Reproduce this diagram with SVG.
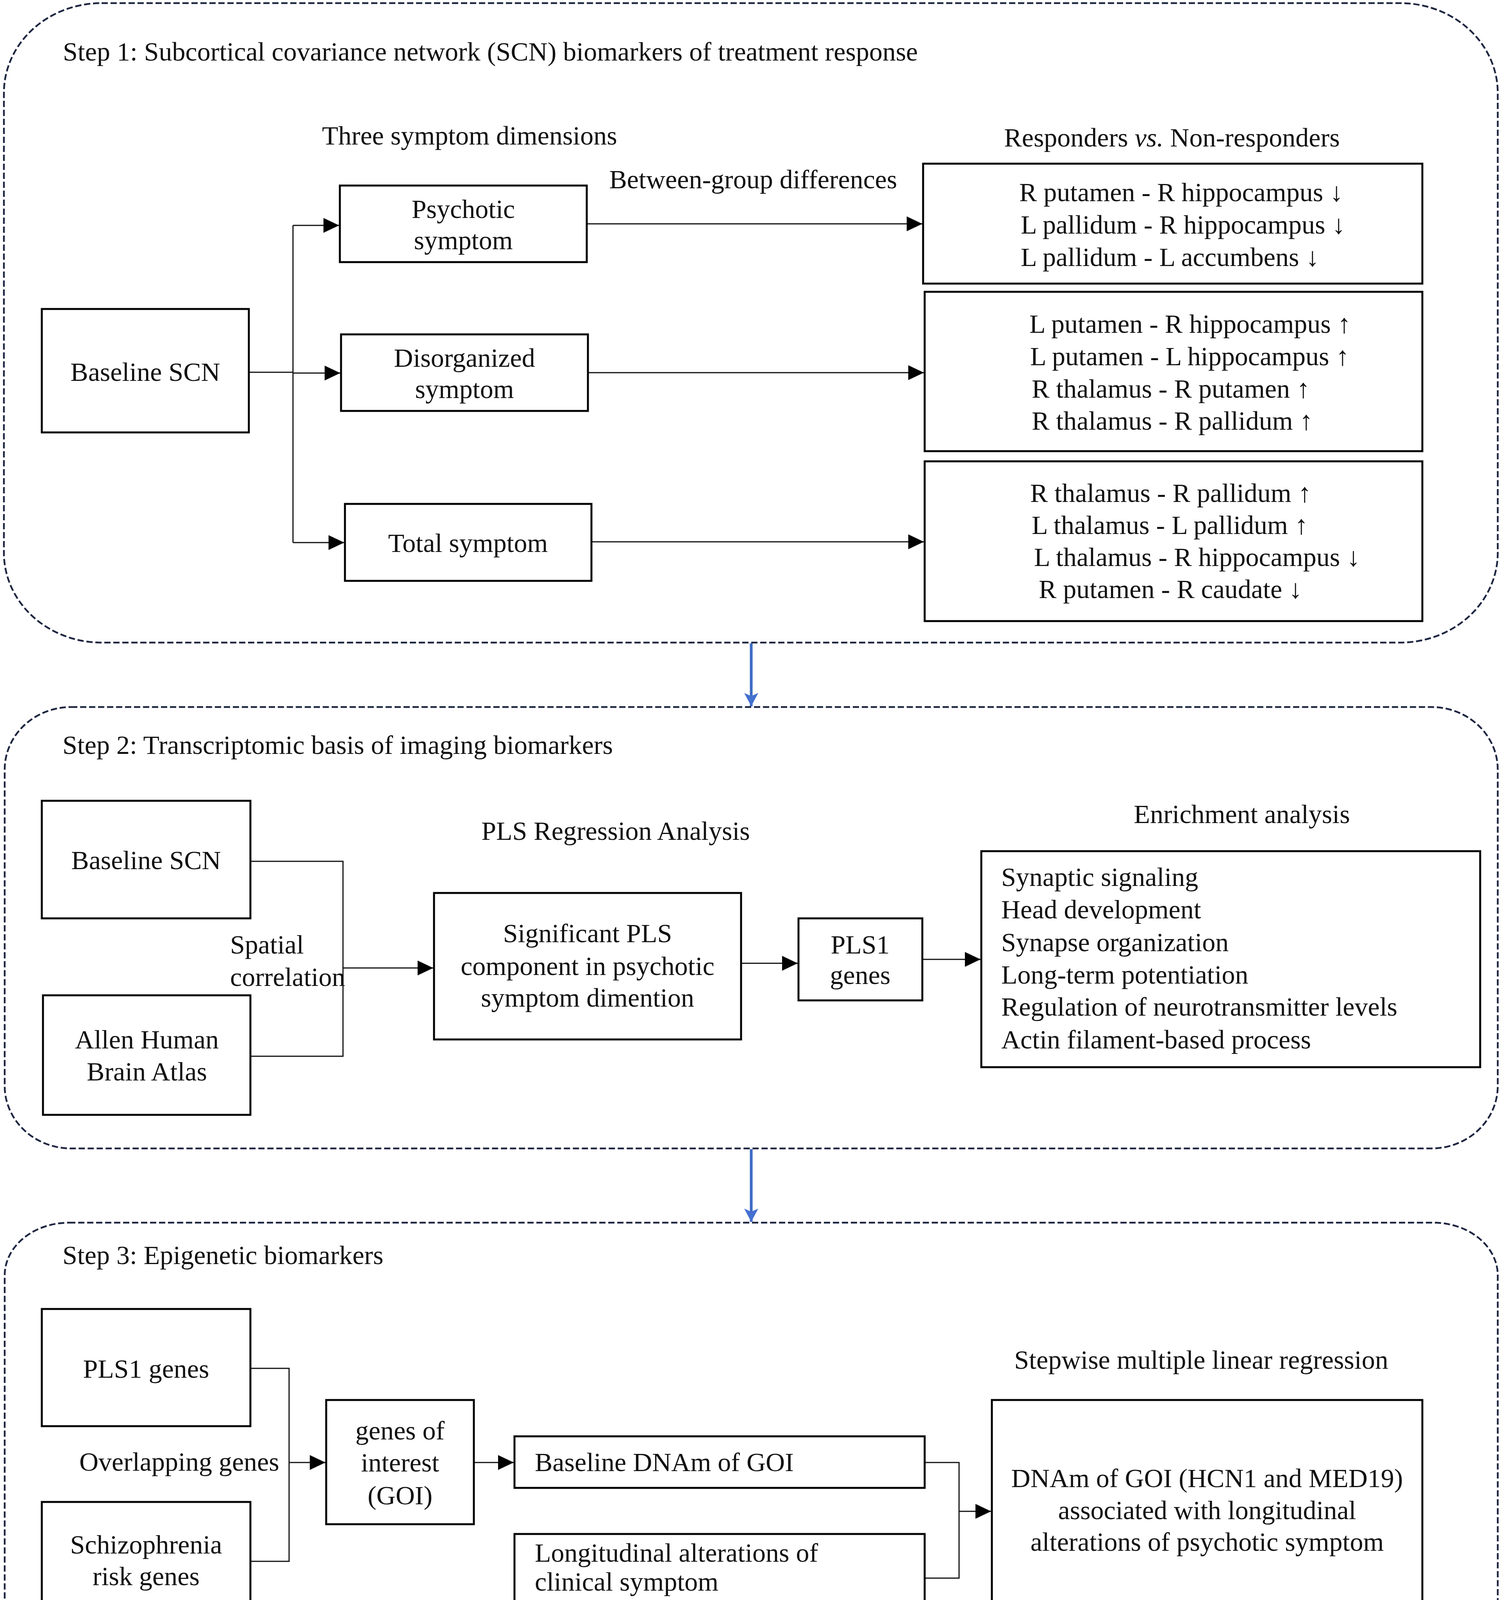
<svg xmlns="http://www.w3.org/2000/svg" width="3850" height="4271" viewBox="0 0 3850 4271">
<defs>
<style>
text{font-family:"Liberation Serif","Times New Roman",serif;font-size:68px;fill:#111}
.c{text-anchor:middle}
.panel{fill:none;stroke:#1c2540;stroke-width:4.5;stroke-dasharray:16 7}
.box{fill:#fff;stroke:#000;stroke-width:5}
.ln{fill:none;stroke:#111;stroke-width:3}
.blue{fill:none;stroke:#3d6cc4;stroke-width:7}
</style>
<marker id="ah" markerUnits="userSpaceOnUse" markerWidth="40" markerHeight="38" refX="40" refY="19" orient="auto">
<path d="M0,0 L40,19 L0,38 z" fill="#000"/>
</marker>
<marker id="bh" markerUnits="userSpaceOnUse" markerWidth="36" markerHeight="36" refX="34" refY="18" orient="auto">
<path d="M0,0 L34,18 L0,36 L8,18 z" fill="#4470d0"/>
</marker>
</defs>
<rect width="3850" height="4271" fill="#fff"/>

<g id="panel1">
<rect class="panel" x="10" y="8" width="3824" height="1637" rx="250" ry="230"/>
<text x="161" y="155">Step 1: Subcortical covariance network (SCN) biomarkers of treatment response</text>
<text class="c" x="1202" y="370">Three symptom dimensions</text>
<text class="c" x="1928" y="482">Between-group differences</text>
<text class="c" x="3000" y="375">Responders <tspan font-style="italic">vs.</tspan> Non-responders</text>
</g>
<g id="panel2">
<rect class="panel" x="12" y="1810" width="3822" height="1130" rx="170" ry="160"/>
<text x="160" y="1930">Step 2: Transcriptomic basis of imaging biomarkers</text>
<text x="589" y="2441">Spatial</text>
<text x="589" y="2524">correlation</text>
<text class="c" x="1576" y="2150">PLS Regression Analysis</text>
<text class="c" x="3179" y="2107">Enrichment analysis</text>
</g>
<g id="panel3">
<rect class="panel" x="12" y="3130" width="3822" height="1127" rx="165" ry="135"/>
<text x="160" y="3236">Step 3: Epigenetic biomarkers</text>
<text x="203" y="3765">Overlapping  genes</text>
<text class="c" x="3075" y="3504">Stepwise multiple linear regression</text>
</g>

<g id="connectors">
<path class="blue" d="M1923,1647 V1808" marker-end="url(#bh)"/>
<path class="blue" d="M1923,2942 V3128" marker-end="url(#bh)"/>
<path class="ln" d="M637,953 H750" stroke-width="4.5"/>
<path class="ln" d="M750,577 V1389"/>
<path class="ln" d="M750,577 H868" marker-end="url(#ah)"/>
<path class="ln" d="M750,955 H871" marker-end="url(#ah)"/>
<path class="ln" d="M750,1389 H881" marker-end="url(#ah)"/>
<path class="ln" d="M1502,573 H2361" marker-end="url(#ah)"/>
<path class="ln" d="M1505,954 H2365" marker-end="url(#ah)"/>
<path class="ln" d="M1514,1387 H2365" marker-end="url(#ah)"/>
<path class="ln" d="M641,2205 H878 V2704 H641"/>
<path class="ln" d="M878,2478 H1109" marker-end="url(#ah)"/>
<path class="ln" d="M1897,2466 H2042" marker-end="url(#ah)"/>
<path class="ln" d="M2361,2456 H2510" marker-end="url(#ah)"/>
<path class="ln" d="M641,3503 H740 V3997 H641"/>
<path class="ln" d="M740,3744 H833" marker-end="url(#ah)"/>
<path class="ln" d="M1213,3744 H1315" marker-end="url(#ah)"/>
<path class="ln" d="M2367,3744 H2455 V4040 H2367"/>
<path class="ln" d="M2455,3869 H2537" marker-end="url(#ah)"/>
</g>

<g id="baseline-scn-1">
<rect class="box" x="107" y="791" width="530" height="316"/>
<text class="c" x="372" y="975">Baseline SCN</text>
</g>
<g id="psychotic">
<rect class="box" x="870" y="475" width="632" height="196"/>
<text class="c" x="1186" y="558">Psychotic</text>
<text class="c" x="1186" y="638">symptom</text>
</g>
<g id="disorganized">
<rect class="box" x="873" y="856" width="632" height="196"/>
<text class="c" x="1189" y="939">Disorganized</text>
<text class="c" x="1189" y="1019">symptom</text>
</g>
<g id="total">
<rect class="box" x="883" y="1290" width="631" height="197"/>
<text class="c" x="1198" y="1413">Total symptom</text>
</g>
<g id="resp1">
<rect class="box" x="2363" y="419" width="1278" height="307"/>
<text x="2609" y="515">R putamen - R hippocampus ↓</text>
<text x="2613" y="598">L pallidum - R hippocampus ↓</text>
<text x="2613" y="681">L pallidum - L accumbens ↓</text>
</g>
<g id="resp2">
<rect class="box" x="2367" y="747" width="1274" height="408"/>
<text x="2635" y="852">L putamen - R hippocampus ↑</text>
<text x="2637" y="935">L putamen - L hippocampus ↑</text>
<text x="2641" y="1018">R thalamus - R putamen ↑</text>
<text x="2641" y="1100">R thalamus - R pallidum ↑</text>
</g>
<g id="resp3">
<rect class="box" x="2367" y="1181" width="1274" height="409"/>
<text x="2637" y="1285">R thalamus - R pallidum ↑</text>
<text x="2641" y="1367">L thalamus - L pallidum ↑</text>
<text x="2647" y="1449">L thalamus - R hippocampus ↓</text>
<text x="2659" y="1531">R putamen - R caudate ↓</text>
</g>

<g id="baseline-scn-2">
<rect class="box" x="107" y="2050" width="534" height="301"/>
<text class="c" x="374" y="2225">Baseline SCN</text>
</g>
<g id="allen">
<rect class="box" x="110" y="2548" width="531" height="306"/>
<text class="c" x="376" y="2684">Allen Human</text>
<text class="c" x="376" y="2766">Brain Atlas</text>
</g>
<g id="significant">
<rect class="box" x="1111" y="2286" width="786" height="375"/>
<text class="c" x="1504" y="2412">Significant PLS</text>
<text class="c" x="1504" y="2496">component in psychotic</text>
<text class="c" x="1504" y="2577">symptom dimention</text>
</g>
<g id="pls1-2">
<rect class="box" x="2044" y="2351" width="317" height="210"/>
<text class="c" x="2202" y="2441">PLS1</text>
<text class="c" x="2202" y="2519">genes</text>
</g>
<g id="enrichment">
<rect class="box" x="2512" y="2179" width="1277" height="553"/>
<text x="2563" y="2268">Synaptic  signaling</text>
<text x="2563" y="2351">Head development</text>
<text x="2563" y="2435">Synapse  organization</text>
<text x="2563" y="2518">Long-term potentiation</text>
<text x="2563" y="2600">Regulation of neurotransmitter levels</text>
<text x="2563" y="2684">Actin filament-based process</text>
</g>

<g id="pls1-3">
<rect class="box" x="107" y="3351" width="534" height="300"/>
<text class="c" x="374" y="3527">PLS1 genes</text>
</g>
<g id="schizo">
<rect class="box" x="107" y="3845" width="534" height="300"/>
<text class="c" x="374" y="3977">Schizophrenia</text>
<text class="c" x="374" y="4058">risk genes</text>
</g>
<g id="goi">
<rect class="box" x="835" y="3584" width="378" height="318"/>
<text class="c" x="1024" y="3685">genes of</text>
<text class="c" x="1024" y="3767">interest</text>
<text class="c" x="1024" y="3851">(GOI)</text>
</g>
<g id="baseline-dnam">
<rect class="box" x="1317" y="3677" width="1050" height="132"/>
<text x="1369" y="3766">Baseline DNAm of GOI</text>
</g>
<g id="longitudinal">
<rect class="box" x="1317" y="3927" width="1050" height="218"/>
<text x="1369" y="3998">Longitudinal alterations of</text>
<text x="1369" y="4072">clinical symptom</text>
</g>
<g id="dnam-result">
<rect class="box" x="2539" y="3584" width="1102" height="561"/>
<text class="c" x="3090" y="3807">DNAm of GOI (HCN1 and MED19)</text>
<text class="c" x="3090" y="3889">associated with longitudinal</text>
<text class="c" x="3090" y="3970">alterations of psychotic symptom</text>
</g>
</svg>
